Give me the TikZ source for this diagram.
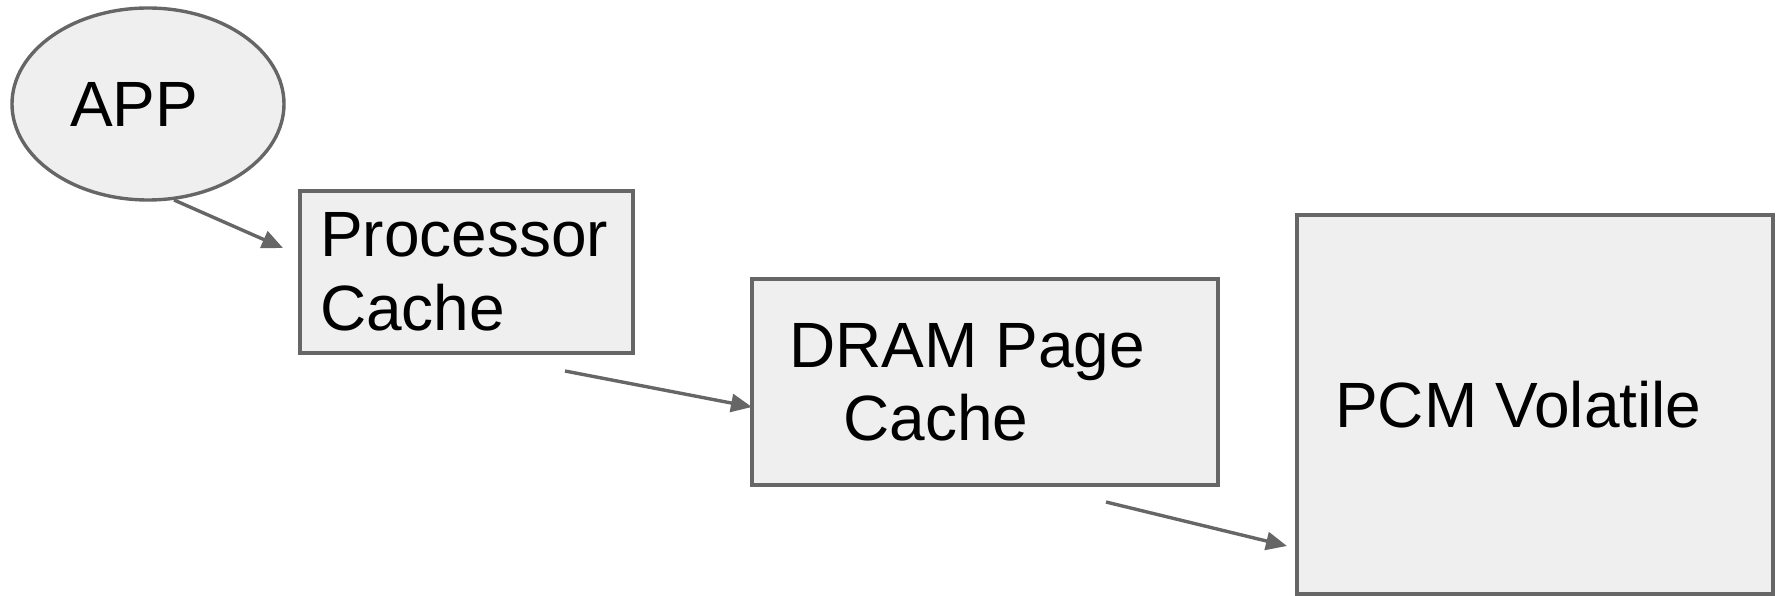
\documentclass[tikz,border=0pt]{standalone}
\usepackage{fontspec}
\setmainfont{Liberation Sans}
\usetikzlibrary{arrows.meta,shapes.geometric}
\definecolor{edgegray}{HTML}{666666}
\definecolor{boxfill}{HTML}{EFEFEF}
\begin{document}
\begin{tikzpicture}[x=1pt,y=-1pt,
  shapebox/.style={draw=edgegray, fill=boxfill, line width=3.4pt, inner sep=0pt, outer sep=0pt},
  lbl/.style={anchor=base west, inner sep=0pt, font=\fontsize{64}{73}\selectfont},
  arr/.style={draw=edgegray, line width=3.4pt, -{Triangle[length=21pt,width=18pt]}}]
\useasboundingbox (0,0) rectangle (1783,596);
\node[shapebox, ellipse, minimum width=272pt, minimum height=192pt] (app) at (148,104) {};
\node[shapebox, rectangle, minimum width=333pt, minimum height=162pt] (proc) at (466.5,272) {};
\node[shapebox, rectangle, minimum width=466pt, minimum height=206pt] (dram) at (985,382) {};
\node[shapebox, rectangle, minimum width=476pt, minimum height=379pt] (pcm) at (1535,404.5) {};
\node[lbl] (tapp) at (70,127) {APP};
\node[lbl] (tproc1) at (320,257) {Processor};
\node[lbl] (tproc2) at (320,330) {Cache};
\node[lbl] (tdram1) at (789,367) {DRAM Page};
\node[lbl] (tdram2) at (843,440) {Cache};
\node[lbl] (tpcm) at (1335,427) {PCM Volatile};
\coordinate (a1s) at (174,200);
\coordinate (a1e) at (283,248);
\coordinate (a2s) at (565,371);
\coordinate (a2e) at (752,407);
\coordinate (a3s) at (1106,502);
\coordinate (a3e) at (1287,546);
\draw[arr] (a1s) -- (a1e);
\draw[arr] (a2s) -- (a2e);
\draw[arr] (a3s) -- (a3e);
\end{tikzpicture}
\end{document}
